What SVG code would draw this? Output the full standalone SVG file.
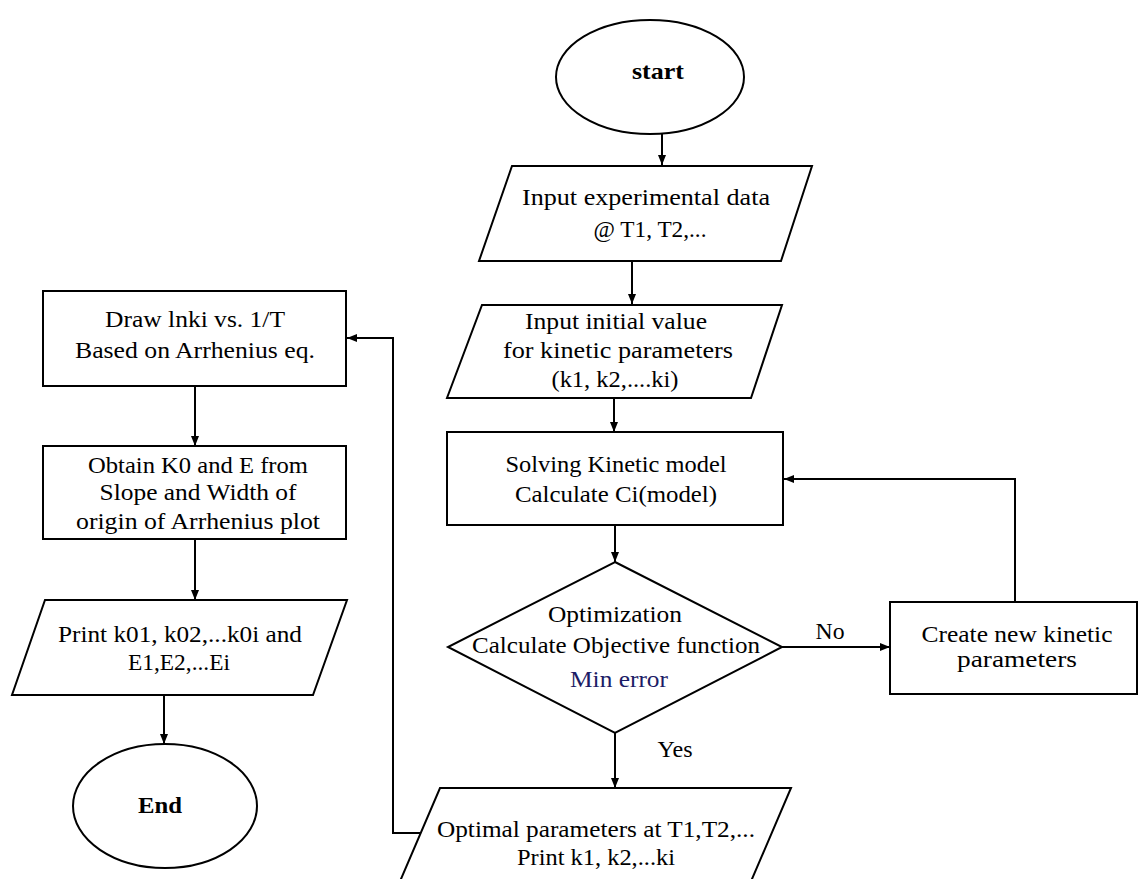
<svg xmlns="http://www.w3.org/2000/svg" width="1139" height="879" viewBox="0 0 1139 879">
<style>
.s{fill:#fff;stroke:#000;stroke-width:2}
.c{fill:none;stroke:#000;stroke-width:2}
text{font-family:"Liberation Serif","Times New Roman",serif;font-size:23px;fill:#000;text-anchor:middle}
.b{font-weight:bold}
.n{fill:#1c1c66}
</style>
<defs>
<marker id="ah" markerUnits="userSpaceOnUse" markerWidth="10" markerHeight="10" refX="10" refY="5" orient="auto">
<path d="M0,1 L10,5 L0,9 z" fill="#000"/>
</marker>
</defs>
<rect width="1139" height="879" fill="#fff"/>
<g id="connectors">
<path class="c" d="M662,134 V165" marker-end="url(#ah)"/>
<path class="c" d="M632,261 V304" marker-end="url(#ah)"/>
<path class="c" d="M614,398 V432" marker-end="url(#ah)"/>
<path class="c" d="M615,525 V562" marker-end="url(#ah)"/>
<path class="c" d="M782,647 H890" marker-end="url(#ah)"/>
<path class="c" d="M1015,602 V479 H784" marker-end="url(#ah)"/>
<path class="c" d="M615,733 V788" marker-end="url(#ah)"/>
<path class="c" d="M421,833 H393 V338 H347" marker-end="url(#ah)"/>
<path class="c" d="M195,386 V446" marker-end="url(#ah)"/>
<path class="c" d="M195,539 V600" marker-end="url(#ah)"/>
<path class="c" d="M164,695 V744" marker-end="url(#ah)"/>
<text x="830" y="639" textLength="29" lengthAdjust="spacingAndGlyphs">No</text>
<text x="675" y="757" textLength="35" lengthAdjust="spacingAndGlyphs">Yes</text>
</g>
<g id="start">
<ellipse class="s" cx="650" cy="77" rx="94" ry="57"/>
<text class="b" x="658" y="79" textLength="52" lengthAdjust="spacingAndGlyphs">start</text>
</g>
<g id="input-data">
<polygon class="s" points="512,166 812,166 781,261 479,261"/>
<text x="646" y="205" textLength="248" lengthAdjust="spacingAndGlyphs">Input experimental data</text>
<text x="650" y="237" textLength="113" lengthAdjust="spacingAndGlyphs">@ T1, T2,...</text>
</g>
<g id="input-initial">
<polygon class="s" points="482,305 782,305 751,398 447,398"/>
<text x="616" y="329" textLength="182" lengthAdjust="spacingAndGlyphs">Input initial value</text>
<text x="618" y="358" textLength="230" lengthAdjust="spacingAndGlyphs">for kinetic parameters</text>
<text x="615" y="387" textLength="127" lengthAdjust="spacingAndGlyphs">(k1, k2,....ki)</text>
</g>
<g id="solving">
<rect class="s" x="447" y="432" width="336" height="93"/>
<text x="616" y="472" textLength="221" lengthAdjust="spacingAndGlyphs">Solving Kinetic model</text>
<text x="616" y="502" textLength="202" lengthAdjust="spacingAndGlyphs">Calculate Ci(model)</text>
</g>
<g id="optimization">
<polygon class="s" points="615,562 782,647 615,733 448,647"/>
<text x="615" y="622" textLength="134" lengthAdjust="spacingAndGlyphs">Optimization</text>
<text x="616" y="653" textLength="288" lengthAdjust="spacingAndGlyphs">Calculate Objective function</text>
<text class="n" x="619" y="687" textLength="98" lengthAdjust="spacingAndGlyphs">Min error</text>
</g>
<g id="create">
<rect class="s" x="890" y="602" width="247" height="92"/>
<text x="1017" y="642" textLength="191" lengthAdjust="spacingAndGlyphs">Create new kinetic</text>
<text x="1017" y="667" textLength="120" lengthAdjust="spacingAndGlyphs">parameters</text>
</g>
<g id="optimal">
<polygon class="s" points="440,788 791,788 743,900 392,900"/>
<text x="596" y="837" textLength="318" lengthAdjust="spacingAndGlyphs">Optimal parameters at T1,T2,...</text>
<text x="596" y="865" textLength="158" lengthAdjust="spacingAndGlyphs">Print k1, k2,...ki</text>
</g>
<g id="draw">
<rect class="s" x="43" y="291" width="303" height="95"/>
<text x="195" y="327" textLength="180" lengthAdjust="spacingAndGlyphs">Draw lnki vs. 1/T</text>
<text x="195" y="358" textLength="240" lengthAdjust="spacingAndGlyphs">Based on Arrhenius eq.</text>
</g>
<g id="obtain">
<rect class="s" x="43" y="446" width="303" height="93"/>
<text x="198" y="473" textLength="220" lengthAdjust="spacingAndGlyphs">Obtain K0 and E from</text>
<text x="198" y="500" textLength="197" lengthAdjust="spacingAndGlyphs">Slope and Width of</text>
<text x="198" y="529" textLength="244" lengthAdjust="spacingAndGlyphs">origin of Arrhenius plot</text>
</g>
<g id="print">
<polygon class="s" points="45,600 347,600 313,695 12,695"/>
<text x="180" y="642" textLength="244" lengthAdjust="spacingAndGlyphs">Print k01, k02,...k0i and</text>
<text x="179" y="670" textLength="102" lengthAdjust="spacingAndGlyphs">E1,E2,...Ei</text>
</g>
<g id="end">
<ellipse class="s" cx="165" cy="806" rx="92" ry="62"/>
<text class="b" x="160" y="813" textLength="44" lengthAdjust="spacingAndGlyphs">End</text>
</g>
</svg>
